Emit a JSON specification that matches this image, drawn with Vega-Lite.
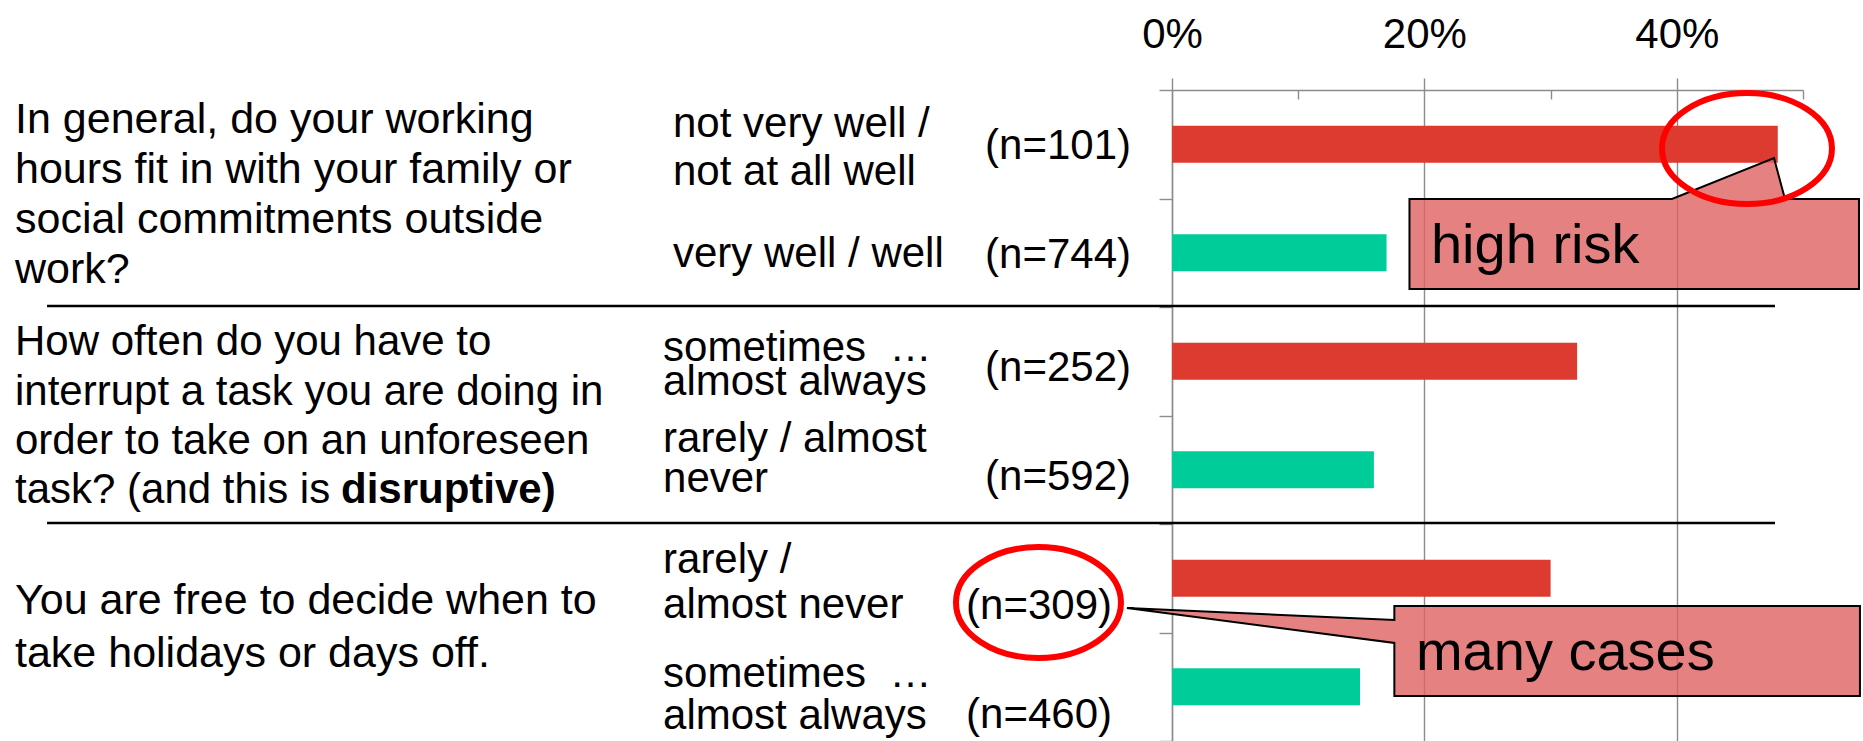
{
  "$schema": "https://vega.github.io/schema/vega-lite/v6.json",
  "width": 631,
  "height": 651,
  "autosize": {"type": "none"},
  "padding": {"left": 1172, "top": 90, "right": 60, "bottom": 0},
  "background": "white",
  "config": {"view": {"stroke": null}, "font": "Liberation Sans"},
  "data": {
    "values": [
      {"row": 1, "group": 1, "level": "high risk", "question": "In general, do your working\nhours fit in with your family or\nsocial commitments outside\nwork?", "answer": "not very well /\nnot at all well", "n": "(n=101)", "share": 0.48},
      {"row": 2, "group": 1, "level": "low risk", "answer": "very well / well", "n": "(n=744)", "share": 0.17},
      {"row": 3, "group": 2, "level": "high risk", "question": "How often do you have to\ninterrupt a task you are doing in\norder to take on an unforeseen\ntask? (and this is", "emphasis": "disruptive)", "answer": "sometimes \u00a0…\nalmost always", "n": "(n=252)", "share": 0.321},
      {"row": 4, "group": 2, "level": "low risk", "answer": "rarely / almost\nnever", "n": "(n=592)", "share": 0.16},
      {"row": 5, "group": 3, "level": "high risk", "question": "You are free to decide when to\ntake holidays or days off.", "answer": "rarely /\nalmost never", "n": "(n=309)", "share": 0.30},
      {"row": 6, "group": 3, "level": "low risk", "answer": "sometimes \u00a0…\nalmost always", "n": "(n=460)", "share": 0.149}
    ]
  },
  "layer": [
    {
      "mark": {"type": "bar", "height": {"band": 0.34}},
      "encoding": {
        "x": {
          "field": "share", "type": "quantitative",
          "scale": {"domain": [0, 0.5], "nice": false, "zero": true},
          "axis": {
            "orient": "top", "values": [0, 0.2, 0.4], "format": ".0%", "title": null,
            "labelFont": "Liberation Sans", "labelFontSize": 42, "labelColor": "black",
            "labelPadding": 22, "labelFlush": false, "tickSize": 12,
            "tickColor": "#8c8c8c", "tickWidth": 1.4, "domainColor": "#8c8c8c", "domainWidth": 1.4,
            "grid": true, "gridColor": "#8c8c8c", "gridWidth": 1.4
          }
        },
        "y": {
          "field": "row", "type": "ordinal",
          "scale": {"paddingInner": 0, "paddingOuter": 0},
          "axis": {
            "title": null, "labels": false, "tickBand": "extent", "tickSize": 13,
            "tickColor": "#8c8c8c", "tickWidth": 1.4, "domainColor": "#8c8c8c", "domainWidth": 1.4, "grid": false
          }
        },
        "color": {
          "field": "level", "type": "nominal",
          "scale": {"domain": ["high risk", "low risk"], "range": ["#DD3B2F", "#00CC99"]},
          "legend": null
        }
      }
    },
    {
      "transform": [{"filter": "datum.row == 2 || datum.row == 4"}],
      "mark": {"type": "rule", "color": "black", "strokeWidth": 2.5},
      "encoding": {
        "x": {
          "datum": -0.8914, "type": "quantitative",
          "axis": {
            "orient": "top", "values": [0.1, 0.3, 0.5], "labels": false, "domain": false, "grid": false,
            "title": null, "tickSize": -9, "tickColor": "#8c8c8c", "tickWidth": 1.4
          }
        },
        "x2": {"datum": 0.4778},
        "y": {"field": "row", "type": "ordinal", "bandPosition": 0.99}
      }
    },
    {
      "transform": [{"filter": "datum.row == 1"}],
      "mark": {"type": "text", "align": "left", "baseline": "alphabetic", "fontSize": 43, "lineHeight": 50, "lineBreak": "\n", "dy": -11, "color": "black"},
      "encoding": {
        "x": {"datum": -0.9168, "type": "quantitative", "axis": null},
        "y": {"field": "row", "type": "ordinal"},
        "text": {"field": "question"}
      }
    },
    {
      "transform": [{"filter": "datum.row == 3"}],
      "mark": {"type": "text", "align": "left", "baseline": "alphabetic", "fontSize": 42, "lineHeight": 49.4, "lineBreak": "\n", "dy": -6, "color": "black"},
      "encoding": {
        "x": {"datum": -0.9168, "type": "quantitative", "axis": null},
        "y": {"field": "row", "type": "ordinal"},
        "text": {"field": "question"}
      }
    },
    {
      "transform": [{"filter": "datum.row == 3"}],
      "mark": {"type": "text", "align": "left", "baseline": "alphabetic", "fontSize": 42, "fontWeight": "bold", "dy": 142, "color": "black"},
      "encoding": {
        "x": {"datum": -0.6585, "type": "quantitative", "axis": null},
        "y": {"field": "row", "type": "ordinal"},
        "text": {"field": "emphasis"}
      }
    },
    {
      "transform": [{"filter": "datum.row == 5"}],
      "mark": {"type": "text", "align": "left", "baseline": "alphabetic", "fontSize": 43, "lineHeight": 52.5, "lineBreak": "\n", "dy": 36, "color": "black"},
      "encoding": {
        "x": {"datum": -0.9168, "type": "quantitative", "axis": null},
        "y": {"field": "row", "type": "ordinal"},
        "text": {"field": "question"}
      }
    },
    {
      "transform": [{"filter": "datum.row == 1"}],
      "mark": {"type": "text", "align": "left", "baseline": "alphabetic", "fontSize": 42, "lineHeight": 48.3, "lineBreak": "\n", "dy": -7.5, "color": "black"},
      "encoding": {
        "x": {"datum": -0.3954, "type": "quantitative", "axis": null},
        "y": {"field": "row", "type": "ordinal"},
        "text": {"field": "answer"}
      }
    },
    {
      "transform": [{"filter": "datum.row == 2"}],
      "mark": {"type": "text", "align": "left", "baseline": "alphabetic", "fontSize": 42, "dy": 14, "color": "black"},
      "encoding": {
        "x": {"datum": -0.3954, "type": "quantitative", "axis": null},
        "y": {"field": "row", "type": "ordinal"},
        "text": {"field": "answer"}
      }
    },
    {
      "transform": [{"filter": "datum.row == 3"}],
      "mark": {"type": "text", "align": "left", "baseline": "alphabetic", "fontSize": 42, "lineHeight": 34, "lineBreak": "\n", "dy": 0, "color": "black"},
      "encoding": {
        "x": {"datum": -0.4033, "type": "quantitative", "axis": null},
        "y": {"field": "row", "type": "ordinal"},
        "text": {"field": "answer"}
      }
    },
    {
      "transform": [{"filter": "datum.row == 4"}],
      "mark": {"type": "text", "align": "left", "baseline": "alphabetic", "fontSize": 42, "lineHeight": 40, "lineBreak": "\n", "dy": -18, "color": "black"},
      "encoding": {
        "x": {"datum": -0.4033, "type": "quantitative", "axis": null},
        "y": {"field": "row", "type": "ordinal"},
        "text": {"field": "answer"}
      }
    },
    {
      "transform": [{"filter": "datum.row == 5"}],
      "mark": {"type": "text", "align": "left", "baseline": "alphabetic", "fontSize": 42, "lineHeight": 45, "lineBreak": "\n", "dy": -5, "color": "black"},
      "encoding": {
        "x": {"datum": -0.4033, "type": "quantitative", "axis": null},
        "y": {"field": "row", "type": "ordinal"},
        "text": {"field": "answer"}
      }
    },
    {
      "transform": [{"filter": "datum.row == 6"}],
      "mark": {"type": "text", "align": "left", "baseline": "alphabetic", "fontSize": 42, "lineHeight": 42, "lineBreak": "\n", "dy": 0, "color": "black"},
      "encoding": {
        "x": {"datum": -0.4033, "type": "quantitative", "axis": null},
        "y": {"field": "row", "type": "ordinal"},
        "text": {"field": "answer"}
      }
    },
    {
      "transform": [{"filter": "datum.group == 1"}],
      "mark": {"type": "text", "align": "right", "baseline": "middle", "fontSize": 42, "dy": 2, "color": "black"},
      "encoding": {
        "x": {"datum": -0.0325, "type": "quantitative", "axis": null},
        "y": {"field": "row", "type": "ordinal"},
        "text": {"field": "n"}
      }
    },
    {
      "transform": [{"filter": "datum.group == 2"}],
      "mark": {"type": "text", "align": "right", "baseline": "middle", "fontSize": 42, "dy": 7, "color": "black"},
      "encoding": {
        "x": {"datum": -0.0325, "type": "quantitative", "axis": null},
        "y": {"field": "row", "type": "ordinal"},
        "text": {"field": "n"}
      }
    },
    {
      "transform": [{"filter": "datum.group == 3"}],
      "mark": {"type": "text", "align": "right", "baseline": "middle", "fontSize": 42, "dy": 28, "color": "black"},
      "encoding": {
        "x": {"datum": -0.0475, "type": "quantitative", "axis": null},
        "y": {"field": "row", "type": "ordinal"},
        "text": {"field": "n"}
      }
    },
    {
      "data": {"values": [{"note": "high risk"}]},
      "mark": {"type": "point", "shape": "M0,0L11,41L85,41L85,131L-364.5,131L-364.5,41L-102,41Z", "size": 4, "filled": true, "fill": "#DE6262", "fillOpacity": 0.8, "stroke": "black", "strokeWidth": 2, "opacity": 1},
      "encoding": {
        "x": {"datum": 0.477, "type": "quantitative", "axis": null},
        "y": {"datum": 1, "type": "ordinal", "bandPosition": 0.627}
      }
    },
    {
      "data": {"values": [{"note": "high risk"}]},
      "mark": {"type": "point", "shape": "M-85,0A85,55.5 0 1,1 85,0A85,55.5 0 1,1 -85,0Z", "size": 4, "filled": false, "stroke": "#FF0000", "strokeWidth": 6, "opacity": 1},
      "encoding": {
        "x": {"datum": 0.4556, "type": "quantitative", "axis": null},
        "y": {"datum": 1, "type": "ordinal", "bandPosition": 0.54}
      }
    },
    {
      "data": {"values": [{"note": "high risk"}]},
      "mark": {"type": "text", "align": "left", "baseline": "alphabetic", "fontSize": 56, "color": "black"},
      "encoding": {
        "x": {"datum": 0.2052, "type": "quantitative", "axis": null},
        "y": {"datum": 2, "type": "ordinal", "bandPosition": 0.594},
        "text": {"field": "note"}
      }
    },
    {
      "data": {"values": [{"note": "many cases"}]},
      "mark": {"type": "point", "shape": "M0,0L267.4,12L267.4,-2L733,-2L733,88L267.4,88L267.4,35Z", "size": 4, "filled": true, "fill": "#DE6262", "fillOpacity": 0.8, "stroke": "black", "strokeWidth": 2, "opacity": 1},
      "encoding": {
        "x": {"datum": -0.0357, "type": "quantitative", "axis": null},
        "y": {"datum": 5, "type": "ordinal", "bandPosition": 0.774}
      }
    },
    {
      "data": {"values": [{"note": "many cases"}]},
      "mark": {"type": "point", "shape": "M-82.5,0A82.5,55.5 0 1,1 82.5,0A82.5,55.5 0 1,1 -82.5,0Z", "size": 4, "filled": false, "stroke": "#FF0000", "strokeWidth": 6, "opacity": 1},
      "encoding": {
        "x": {"datum": -0.1058, "type": "quantitative", "axis": null},
        "y": {"datum": 5, "type": "ordinal", "bandPosition": 0.7235}
      }
    },
    {
      "data": {"values": [{"note": "many cases"}]},
      "mark": {"type": "text", "align": "left", "baseline": "alphabetic", "fontSize": 56, "color": "black"},
      "encoding": {
        "x": {"datum": 0.1933, "type": "quantitative", "axis": null},
        "y": {"datum": 6, "type": "ordinal", "bandPosition": 0.3456},
        "text": {"field": "note"}
      }
    }
  ],
  "resolve": {"axis": {"x": "independent"}}
}
